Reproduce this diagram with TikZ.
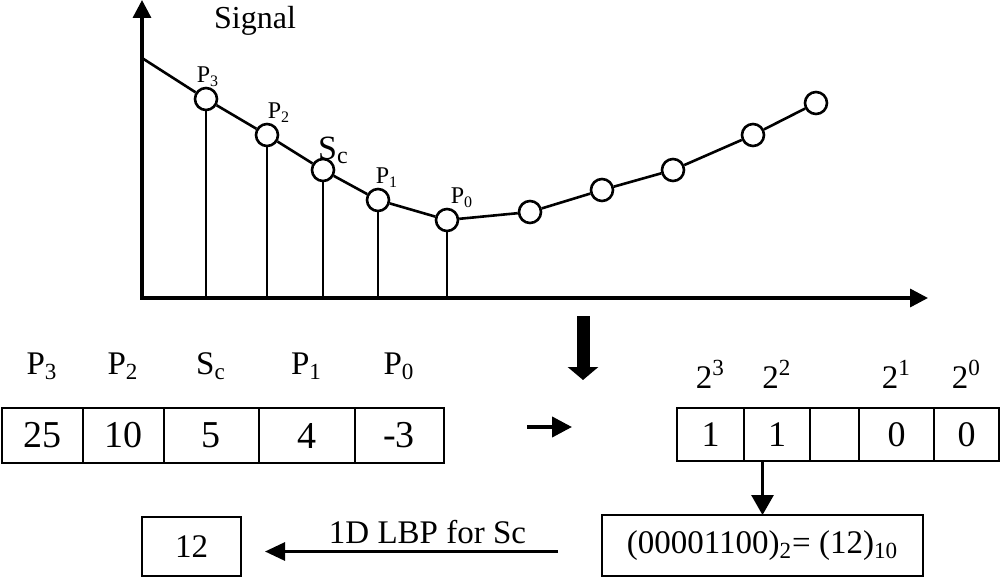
\documentclass[tikz,border=0pt]{standalone}
\usepackage{fontspec}
\setmainfont{Liberation Serif}
\usetikzlibrary{arrows.meta,positioning}

\tikzset{
  pt/.style={circle, draw, line width=1.3pt, fill=white, minimum size=11pt, inner sep=0pt},
  lbl/.style={font=\fontsize{12}{12}\selectfont, inner sep=0pt},
  cell/.style={draw, line width=1pt, outer sep=0pt, inner sep=0pt, minimum height=27.5pt, font=\fontsize{19}{19}\selectfont},
  bit/.style={cell, minimum height=26.5pt, font=\fontsize{18}{18}\selectfont},
  head/.style={font=\fontsize{16.5}{16.5}\selectfont, anchor=base},
  big/.style={font=\fontsize{16.5}{16.5}\selectfont}
}

\begin{document}
\begin{tikzpicture}[x=0.5pt, y=-0.5pt]
    \useasboundingbox (0,0) rectangle (1000,577);
    \coordinate (o) at (142,298);
    \coordinate (ytop) at (142,0);
    \coordinate (xend) at (928,298);
    \coordinate (start) at (142,58);
    \draw[line width=1.7pt, {Triangle[length=9pt,width=9pt]}-{Triangle[length=9pt,width=9pt]}] (ytop) -- (o) -- (xend);
    \node[font=\fontsize{16}{16}\selectfont] (sig) at (255,21) {Signal};

    \node[pt, label={[lbl, xshift=1pt]above:P\textsubscript{3}}] (p3) at (206,99) {};
    \node[pt, label={[lbl, xshift=6pt]above:P\textsubscript{2}}] (p2) at (267,135) {};
    \node[pt, label={[lbl, xshift=5pt, label distance=-3pt]above:{\fontsize{17}{17}\selectfont S}\raisebox{-2pt}{c}}] (sc) at (323,170) {};
    \node[pt, label={[lbl, xshift=4.5pt]above:P\textsubscript{1}}] (p1) at (378,200) {};
    \node[pt, label={[lbl, xshift=7.5pt]above:P\textsubscript{0}}] (p0) at (447,220) {};
    \node[pt] (s1) at (530,212) {};
    \node[pt] (s2) at (602,190) {};
    \node[pt] (s3) at (673,170) {};
    \node[pt] (s4) at (753,135) {};
    \node[pt] (s5) at (816,103) {};
    \draw[line width=1.3pt] (start) -- (p3) -- (p2) -- (sc) -- (p1) -- (p0) -- (s1) -- (s2) -- (s3) -- (s4) -- (s5);
    \foreach \n in {p3,p2,sc,p1,p0}
        \draw[line width=1.1pt] (\n.south) -- (\n.south |- o);

    \node[cell, minimum width=40.5pt] (c3) at (42,435.5) {25};
    \node[cell, minimum width=40.5pt, right=0pt of c3] (c2) {10};
    \node[cell, minimum width=47.5pt, right=0pt of c2] (cs) {5};
    \node[cell, minimum width=48pt, right=0pt of cs] (c1) {4};
    \node[cell, minimum width=44.5pt, right=0pt of c1] (c0) {-3};
    \foreach \c/\t in {c3/P\textsubscript{3}, c2/P\textsubscript{2}, cs/S\textsubscript{c}, c1/P\textsubscript{1}, c0/P\textsubscript{0}}
        \node[head] (h\c) at ([yshift=30.75pt]\c) {\t};

    \coordinate (dtop) at (583,316);
    \coordinate (dbot) at (583,380);
    \draw[line width=6.5pt, -{Triangle[length=6.5pt,width=15pt]}] (dtop) -- (dbot);
    \coordinate (rfrom) at (527,427);
    \coordinate (rto) at (572,427);
    \draw[line width=2pt, -{Triangle[length=10pt,width=10pt]}] (rfrom) -- (rto);

    \node[bit, minimum width=33.5pt] (b3) at (710.5,434.5) {1};
    \node[bit, minimum width=33pt, right=0pt of b3] (b2) {1};
    \node[bit, minimum width=24.5pt, right=0pt of b2] (bx) {};
    \node[bit, minimum width=37.5pt, right=0pt of bx] (b1) {0};
    \node[bit, minimum width=32.5pt, right=0pt of b1] (b0) {0};
    \foreach \b/\t in {b3/3, b2/2, b1/1, b0/0}
        \node[head] (e\b) at ([yshift=23.25pt]\b) {2\textsuperscript{\t}};

    \node[cell, big, minimum width=160.5pt, minimum height=30.5pt] (res) at (762.5,545.5) {(00001100)\textsubscript{2}= (12)\textsubscript{10}};
    \draw[line width=1.5pt, -{Triangle[length=10pt,width=11pt]}] (res.north |- b2.south) -- (res.north);

    \node[cell, big, minimum width=49.5pt, minimum height=29.5pt] (lbp) at (191.5,546.5) {12};
    \draw[line width=1.5pt, -{Triangle[length=10pt,width=9pt]}, shorten <=22pt, shorten >=12pt] ([yshift=-3pt]res.west) -- ([yshift=-3pt]res.west -| lbp.east)
        node[big, midway, above, xshift=3pt] (lbptxt) {1D LBP for Sc};
\end{tikzpicture}
\end{document}
